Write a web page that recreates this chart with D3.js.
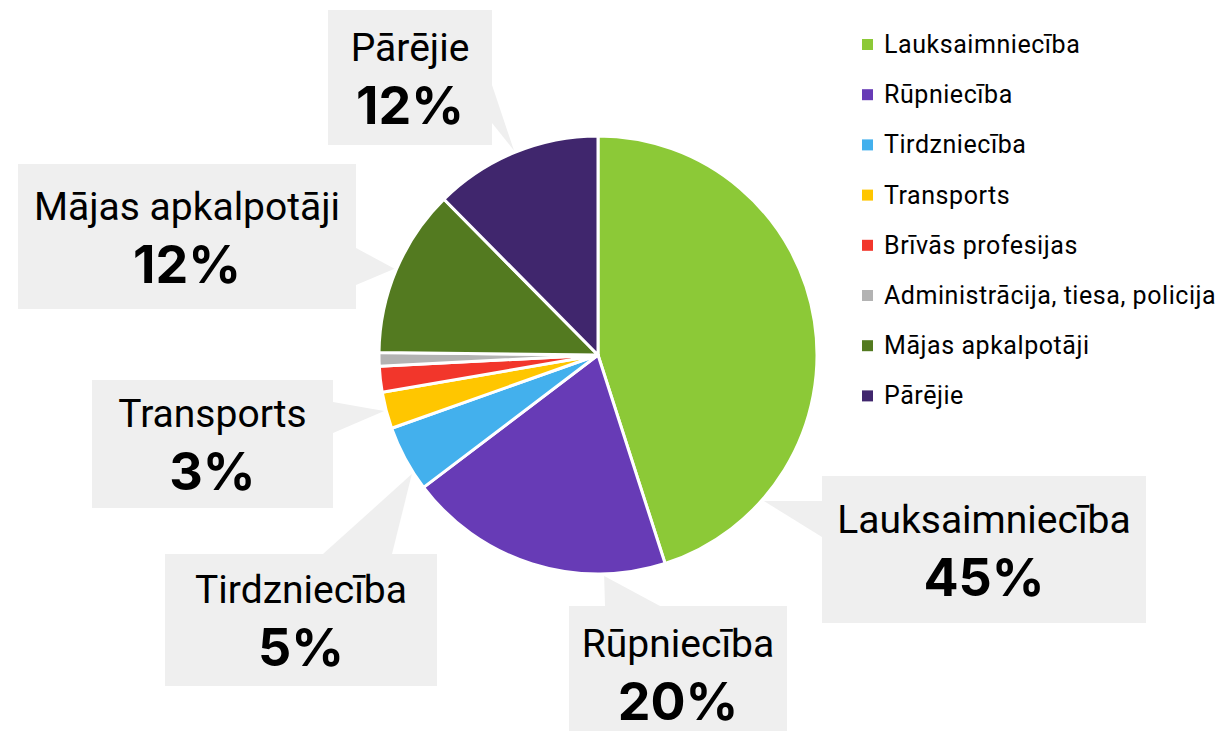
<!doctype html>
<html lang="lv">
<head>
<meta charset="utf-8">
<title>Nodarbinātība pa nozarēm</title>
<script src="https://d3js.org/d3.v7.min.js"></script>
<style>
  body { margin: 0; background: #fff; }
  svg { display: block; }
</style>
</head>
<body>
<script>
// data
var categories = ["Lauksaimniecība", "Rūpniecība", "Tirdzniecība", "Transports",
  "Brīvās profesijas", "Administrācija, tiesa, policija", "Mājas apkalpotāji", "Pārējie"];
var values = [45.0, 19.6, 4.9, 2.7, 1.9, 1.0, 12.4, 12.4];
var colors = ["#8cc937", "#673bb6", "#43b0ed", "#ffc600", "#f2362b", "#b3b3b3", "#537a20", "#40266d"];

// callout layout: box, pointer base on one box side, where the tip hits the slice (0..1 of its angle)
var calloutLayout = [
  {i: 0, x: 822, y: 476, w: 324, h: 147, side: "left",  b0: 501, b1: 537, t: 0.81},
  {i: 1, x: 569, y: 606, w: 218, h: 135, side: "top",   b0: 605, b1: 660, t: 0.23},
  {i: 2, x: 165, y: 554, w: 272, h: 132, side: "top",   b0: 323, b1: 392, t: 0.26},
  {i: 3, x: 92,  y: 380, w: 241, h: 128, side: "right", b0: 402, b1: 433, t: 0.5},
  {i: 6, x: 18,  y: 164, w: 338, h: 145, side: "right", b0: 248, b1: 285, t: 0.5},
  {i: 7, x: 328, y: 10,  w: 164, h: 135, side: "right", b0: 85,  b1: 123, t: 0.5}
];

var w = 1220, h = 731;
var cx = 598, cy = 355, r = 219;

var svg = d3.select("body").append("svg")
  .attr("width", w)
  .attr("height", h);

var total = d3.sum(values);
var pie = d3.pie().sort(null).value(function(d) { return d; });
var arcs = pie(values);
var arc = d3.arc().innerRadius(0).outerRadius(r);
var edge = d3.arc().innerRadius(r + 2).outerRadius(r + 2);

// callouts (under the pie)
var gCall = svg.append("g");
calloutLayout.forEach(function(c) {
  var a = arcs[c.i];
  var ang = a.startAngle + c.t * (a.endAngle - a.startAngle);
  var tip = edge.centroid({startAngle: ang, endAngle: ang});
  tip = [tip[0] + cx, tip[1] + cy];
  var p0, p1;
  if (c.side === "left") { p0 = [c.x, c.b0]; p1 = [c.x, c.b1]; }
  else if (c.side === "right") { p0 = [c.x + c.w, c.b0]; p1 = [c.x + c.w, c.b1]; }
  else { p0 = [c.b0, c.y]; p1 = [c.b1, c.y]; }

  gCall.append("path")
    .attr("d", "M" + p0 + "L" + tip + "L" + p1 + "Z")
    .attr("fill", "#efefef");
  gCall.append("rect")
    .attr("x", c.x).attr("y", c.y)
    .attr("width", c.w).attr("height", c.h)
    .attr("fill", "#efefef");

  var mx = c.x + c.w / 2, my = c.y + c.h / 2;
  gCall.append("text")
    .attr("x", mx).attr("y", my - 17)
    .attr("text-anchor", "middle")
    .style("font-family", "Roboto, sans-serif")
    .style("font-size", "39px")
    .style("fill", "#000")
    .text(categories[c.i]);
  gCall.append("text")
    .attr("x", mx).attr("y", my + 46)
    .attr("text-anchor", "middle")
    .style("font-family", "Inter, Roboto, sans-serif")
    .style("font-weight", "700")
    .style("font-size", "52px")
    .style("fill", "#000")
    .text(Math.round(values[c.i] / total * 100) + "%");
});

// pie
svg.append("g")
  .attr("transform", "translate(" + cx + "," + cy + ")")
  .selectAll("path")
  .data(arcs)
  .enter()
  .append("path")
  .attr("d", arc)
  .attr("fill", function(d, i) { return colors[i]; })
  .attr("stroke", "#fff")
  .attr("stroke-width", 3)
  .attr("stroke-linejoin", "round");

// legend
var legend = svg.append("g").attr("transform", "translate(862,44.5)");
var row = legend.selectAll("g")
  .data(categories)
  .enter()
  .append("g")
  .attr("transform", function(d, i) { return "translate(0," + (i * 50.2) + ")"; });
row.append("rect")
  .attr("x", 0).attr("y", -5.5)
  .attr("width", 11).attr("height", 11)
  .attr("fill", function(d, i) { return colors[i]; });
row.append("text")
  .attr("x", 22).attr("y", 8.5)
  .style("font-family", "Roboto, sans-serif")
  .style("font-size", "25px")
  .style("letter-spacing", "0.55px")
  .style("fill", "#000")
  .text(function(d) { return d; });
</script>
</body>
</html>
